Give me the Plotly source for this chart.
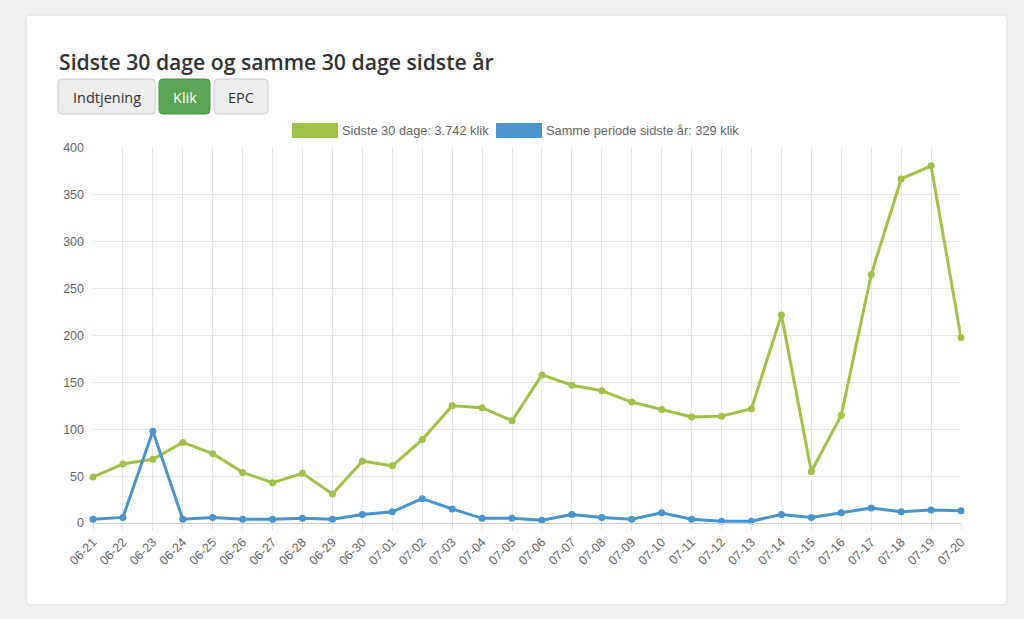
import plotly.graph_objects as go

dates = ["06-21", "06-22", "06-23", "06-24", "06-25", "06-26", "06-27", "06-28", "06-29", "06-30",
         "07-01", "07-02", "07-03", "07-04", "07-05", "07-06", "07-07", "07-08", "07-09", "07-10",
         "07-11", "07-12", "07-13", "07-14", "07-15", "07-16", "07-17", "07-18", "07-19", "07-20"]
sidste_30 = [49, 63, 68, 86, 74, 54, 43, 53, 31, 66,
             61, 89, 125, 123, 109, 158, 147, 141, 129, 121,
             113, 114, 122, 222, 55, 115, 265, 367, 381, 198]
sidste_aar = [4, 6, 98, 4, 6, 4, 4, 5, 4, 9,
              12, 26, 15, 5, 5, 3, 9, 6, 4, 11,
              4, 2, 2, 9, 6, 11, 16, 12, 14, 13]
y_ticks = [0, 50, 100, 150, 200, 250, 300, 350, 400]
title = "Sidste 30 dage og samme 30 dage sidste år"
buttons = ["Indtjening", "Klik", "EPC"]
legend_labels = ["Sidste 30 dage: 3.742 klik", "Samme periode sidste år: 329 klik"]

GREEN = "#a2c14a"
BLUE = "#4a93cc"

W, H = 1024, 619
L, R, T, B = 93, 961, 148, 523


def px(x):
    return (x - L) / (R - L)


def py(y):
    return (B - y) / (B - T)


def rrect(x0, y0, x1, y1, r):
    X0, X1 = px(x0), px(x1)
    Y0, Y1 = py(y0), py(y1)
    rx = r / (R - L)
    ry = r / (B - T)
    return (f"M {X0+rx},{Y0} L {X1-rx},{Y0} Q {X1},{Y0} {X1},{Y0-ry} "
            f"L {X1},{Y1+ry} Q {X1},{Y1} {X1-rx},{Y1} L {X0+rx},{Y1} "
            f"Q {X0},{Y1} {X0},{Y1+ry} L {X0},{Y0-ry} Q {X0},{Y0} {X0+rx},{Y0} Z")


fig = go.Figure()
fig.add_trace(go.Scatter(x=list(range(len(dates))), y=sidste_30, mode="lines+markers",
                         line=dict(color=GREEN, width=3), marker=dict(color=GREEN, size=7),
                         name=legend_labels[0], showlegend=False, cliponaxis=False))
fig.add_trace(go.Scatter(x=list(range(len(dates))), y=sidste_aar, mode="lines+markers",
                         line=dict(color=BLUE, width=3), marker=dict(color=BLUE, size=7),
                         name=legend_labels[1], showlegend=False, cliponaxis=False))

shapes = []
annotations = []

# card
shapes.append(dict(type="path", xref="paper", yref="paper", layer="below",
                   path=rrect(26, 15, 1007, 605, 4), fillcolor="white",
                   line=dict(color="#dcdcdc", width=1)))

# buttons
btn_pos = [(58, 155), (159, 210), (214, 268)]
for i, (lbl, (x0, x1)) in enumerate(zip(buttons, btn_pos)):
    active = lbl == "Klik"
    shapes.append(dict(type="path", xref="paper", yref="paper", layer="above",
                       path=rrect(x0, 79, x1, 114, 4),
                       fillcolor="#5aa655" if active else "#ededed",
                       line=dict(color="#4b9147" if active else "#cccccc", width=1)))
    annotations.append(dict(x=px((x0 + x1) / 2), y=py(97), xref="paper", yref="paper",
                            text=lbl, showarrow=False, xanchor="center", yanchor="middle",
                            font=dict(family="Open Sans", size=14.5,
                                      color="white" if active else "#333333")))

# legend boxes
for (x0, x1, tx), col, lbl in zip([(292, 338, 340), (496, 542, 544)], [GREEN, BLUE], legend_labels):
    shapes.append(dict(type="rect", xref="paper", yref="paper", layer="above",
                       x0=px(x0), x1=px(x1), y0=py(123), y1=py(138),
                       fillcolor=col, line=dict(width=0)))
    annotations.append(dict(x=px(tx), y=py(130.5), xref="paper", yref="paper", text=lbl,
                            showarrow=False, xanchor="left", yanchor="middle",
                            font=dict(family="Liberation Sans, Arial", size=12.8, color="#666666")))

# title
annotations.append(dict(x=px(57), y=py(62), xref="paper", yref="paper", text=title,
                        showarrow=False, xanchor="left", yanchor="middle",
                        font=dict(family="Open Sans", size=21.2, weight=600, color="#333333")))

fig.update_layout(
    width=W, height=H,
    margin=dict(l=L, r=W - R, t=T, b=H - B, pad=0),
    paper_bgcolor="#f0f0f0", plot_bgcolor="white",
    shapes=shapes, annotations=annotations,
    showlegend=False,
    xaxis=dict(tickmode="array", tickvals=list(range(len(dates))), ticktext=dates,
               range=[0, len(dates) - 1], tickangle=-45, showgrid=True, gridcolor="#e6e6e6",
               gridwidth=1, zeroline=False, showline=True, linecolor="#d0d0d0",
               ticks="outside", ticklen=6, tickcolor="#e0e0e0",
               tickfont=dict(family="Liberation Sans, Arial", size=12.5, color="#666666")),
    yaxis=dict(tickmode="array", tickvals=y_ticks, range=[0, 400], showgrid=True,
               gridcolor="#e6e6e6", gridwidth=1, zeroline=False, showline=False,
               ticks="", ticklabelstandoff=8,
               tickfont=dict(family="Liberation Sans, Arial", size=12.5, color="#666666")),
)

fig.write_html("out.html")
